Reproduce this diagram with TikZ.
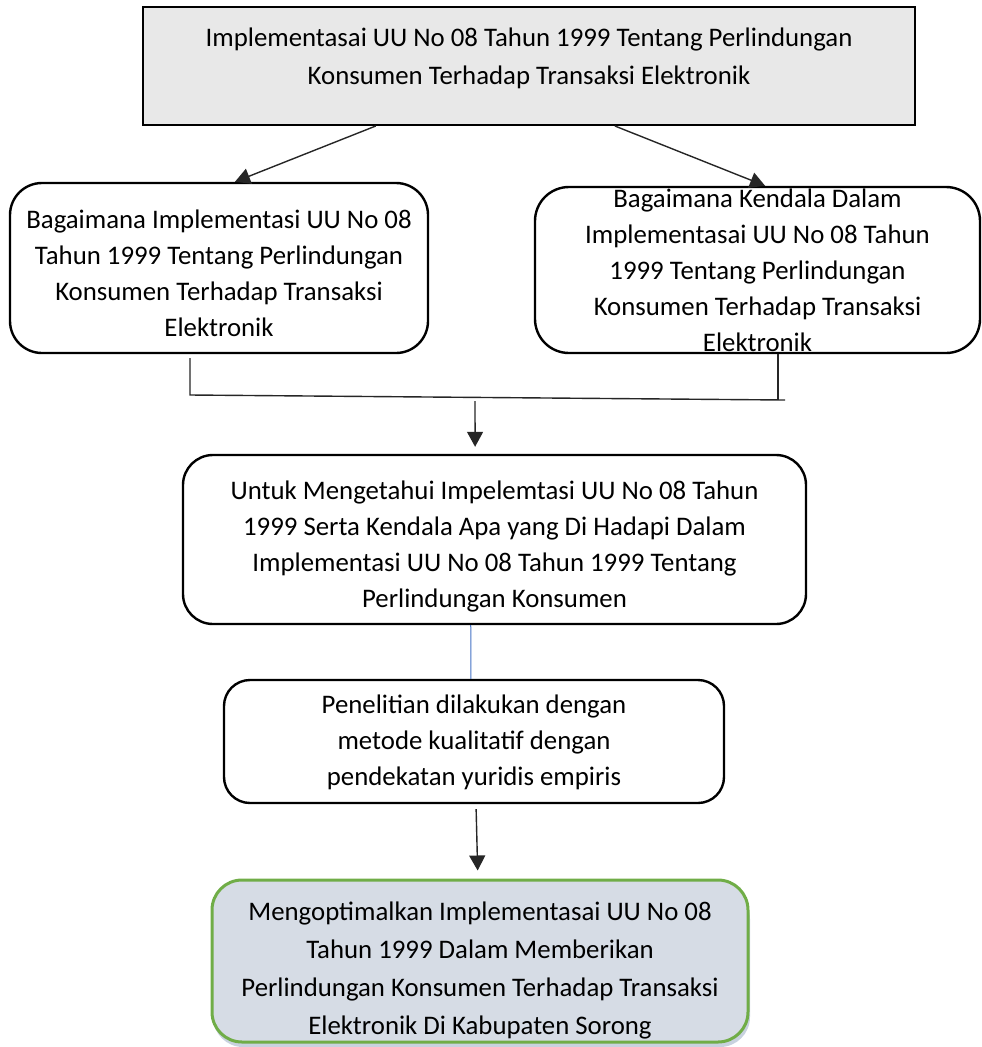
\documentclass[tikz,border=0pt]{standalone}
\usepackage{fontspec}
\setmainfont{Carlito}
\usetikzlibrary{arrows.meta,calc}
\definecolor{topgray}{HTML}{E8E8E8}
\definecolor{endfill}{HTML}{D6DCE5}
\definecolor{endline}{HTML}{70AD47}
\definecolor{endshadow}{HTML}{C8D2DF}
\definecolor{bluelink}{HTML}{4472C4}
\tikzset{
  txt/.style={align=center,font=\fontsize{26.8}{36}\selectfont,inner sep=0pt},
  txtwide/.style={align=center,font=\fontsize{26.8}{38}\selectfont,inner sep=0pt},
  boxbase/.style={draw=black,line width=2.4pt,inner sep=0pt},
  topbox/.style={boxbase,fill=topgray,line width=2pt},
  rbox/.style={boxbase,rounded corners=#1},
  endbox/.style={draw=endline,line width=3pt,fill=endfill,rounded corners=30pt,inner sep=0pt},
  link/.style={draw=black!85,line width=1.4pt},
  arr/.style={link,-{Triangle[length=15pt,width=16pt]}},
}
\begin{document}
\begin{tikzpicture}[x=1pt,y=-1pt]
\useasboundingbox (0,0) rectangle (982,1047);
% top box
\node[topbox,minimum width=772pt,minimum height=118pt,
  label={[txtwide,yshift=8pt]center:Implementasai UU No 08 Tahun 1999 Tentang Perlindungan\\Konsumen Terhadap Transaksi Elektronik}]
  (top) at (529,66) {};
% left question box
\node[rbox=32pt,minimum width=418pt,minimum height=170pt,
  label={[txt,yshift=-5pt]center:Bagaimana Implementasi UU No 08\\Tahun 1999 Tentang Perlindungan\\Konsumen Terhadap Transaksi\\Elektronik}]
  (lq) at (219,268) {};
% right question box
\node[rbox=34pt,minimum width=445pt,minimum height=166pt,
  label={[txt,yshift=0pt]center:Bagaimana Kendala Dalam\\Implementasai UU No 08 Tahun\\1999 Tentang Perlindungan\\Konsumen Terhadap Transaksi\\Elektronik}]
  (rq) at (757.5,270) {};
% goal box
\node[rbox=30pt,minimum width=623pt,minimum height=169pt,
  label={[txt,yshift=-7pt]center:Untuk Mengetahui Impelemtasi UU No 08 Tahun\\1999 Serta Kendala Apa yang Di Hadapi Dalam\\Implementasi UU No 08 Tahun 1999 Tentang\\Perlindungan Konsumen}]
  (goal) at (494.5,539.5) {};
% method box
\node[rbox=26pt,minimum width=500pt,minimum height=123pt,
  label={[txt,yshift=-1pt]center:Penelitian dilakukan dengan\\metode kualitatif dengan\\pendekatan yuridis empiris}]
  (meth) at (474,741.5) {};
% result box with shadow
\fill[endshadow,rounded corners=30pt] (213,889) rectangle (750,1047);
\node[endbox,minimum width=536pt,minimum height=162pt,
  label={[txtwide,yshift=-9pt]center:Mengoptimalkan Implementasai UU No 08\\Tahun 1999 Dalam Memberikan\\Perlindungan Konsumen Terhadap Transaksi\\Elektronik Di Kabupaten Sorong}]
  (res) at (480,961) {};
% connectors
\draw[arr] ($(top.south west)!0.302!(top.south east)$) -- ($(lq.north west)!0.538!(lq.north east)$);
\draw[arr] ($(top.south west)!0.611!(top.south east)$) -- ($(rq.north west)!0.517!(rq.north east)$);
\coordinate (jl) at (190,395);
\coordinate (jr) at (785,400);
\coordinate (ja) at (475,401);
\coordinate (lqb) at ($(lq.south west)!0.431!(lq.south east)$);
\coordinate (rqb) at ($(rq.south west)!0.546!(rq.south east)$);
\draw[link,shorten <=4pt] (lqb) -- (jl) -- (jr);
\draw[link] (rqb) -- (rqb |- jr);
\draw[arr,shorten >=7pt] (ja) -- ($(goal.north west)!0.469!(goal.north east)$);
\draw[bluelink,line width=1pt] ($(goal.south west)!0.462!(goal.south east)$) -- ($(meth.north west)!0.494!(meth.north east)$);
\draw[arr,shorten <=5pt,shorten >=8pt] ($(meth.south west)!0.504!(meth.south east)$) -- ($(res.north west)!0.496!(res.north east)$);
\end{tikzpicture}
\end{document}
